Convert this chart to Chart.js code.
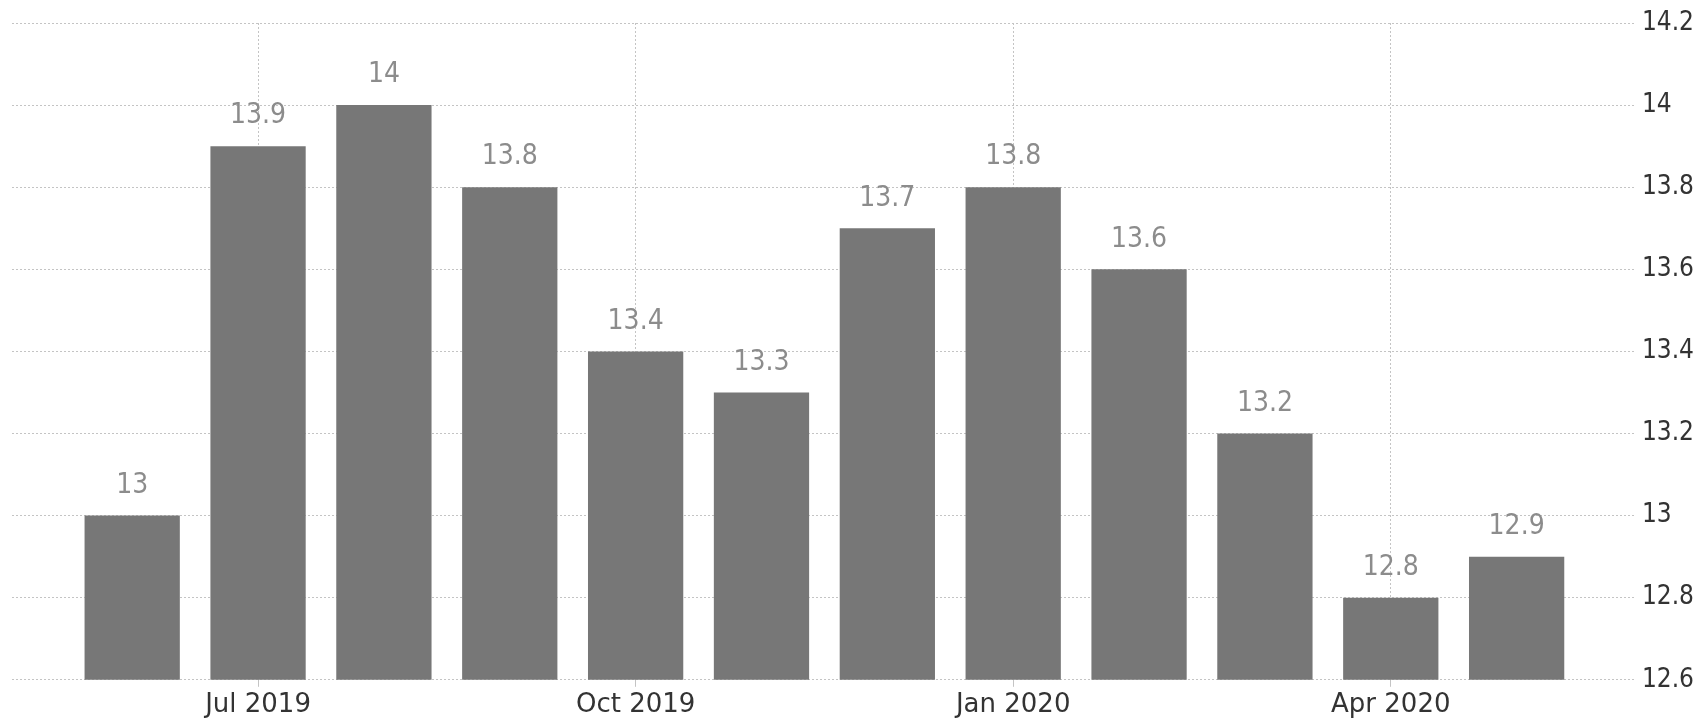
<!DOCTYPE html>
<html>
<head>
<meta charset="utf-8">
<script src="https://cdn.jsdelivr.net/npm/chart.js@4.4.1/dist/chart.umd.min.js"></script>
<style>
  html, body { margin: 0; padding: 0; background: #fff; }
  #wrap { width: 1707px; height: 728px; }
</style>
</head>
<body>
<div id="wrap"><canvas id="chart"></canvas></div>
<script>
// --- data ---
const months = ["Jun 2019", "Jul 2019", "Aug 2019", "Sep 2019", "Oct 2019", "Nov 2019",
                "Dec 2019", "Jan 2020", "Feb 2020", "Mar 2020", "Apr 2020", "May 2020"];
const values = [13, 13.9, 14, 13.8, 13.4, 13.3, 13.7, 13.8, 13.6, 13.2, 12.8, 12.9];
const xTickLabels = ["Jul 2019", "Oct 2019", "Jan 2020", "Apr 2020"];
const yTicks = [12.6, 12.8, 13, 13.2, 13.4, 13.6, 13.8, 14, 14.2];

const points = values.map((v, i) => ({ x: i, y: v }));
const xTickIdx = xTickLabels.map(l => months.indexOf(l));

// --- value labels above bars ---
const valueLabels = {
    id: "valueLabels",
    afterDatasetsDraw(chart) {
        const ctx = chart.ctx;
        const meta = chart.getDatasetMeta(0);
        ctx.save();
        ctx.font = "28px 'Liberation Sans Narrow', 'DejaVu Sans Condensed', sans-serif";
        ctx.fillStyle = "#8c8c8c";
        ctx.textAlign = "center";
        ctx.textBaseline = "middle";
        meta.data.forEach((bar, i) => {
            ctx.fillText(String(values[i]), bar.x, bar.y - 30);
        });
        ctx.restore();
    }
};

const dotted = [2, 2];

new Chart(document.getElementById("chart"), {
    type: "bar",
    data: {
        datasets: [{
            data: points,
            backgroundColor: "#777777",
            borderWidth: 0,
            barPercentage: 0.757,
            categoryPercentage: 1
        }]
    },
    options: {
        responsive: true,
        maintainAspectRatio: false,
        animation: false,
        layout: { padding: { left: 12, right: 6, top: 23, bottom: 4 } },
        plugins: { legend: { display: false }, tooltip: { enabled: false } },
        scales: {
            x: {
                type: "linear",
                offset: false,
                min: -0.955,
                max: 11.94,
                afterBuildTicks: axis => { axis.ticks = xTickIdx.map(v => ({ value: v })); },
                ticks: {
                    autoSkip: false,
                    maxRotation: 0,
                    padding: 3,
                    color: "#333",
                    font: { family: "'DejaVu Sans', sans-serif", size: 26 },
                    callback: v => months[v]
                },
                grid: { offset: false, color: "#c4c4c4", lineWidth: 1, tickLength: 7, drawTicks: true },
                border: { display: false, dash: dotted }
            },
            y: {
                position: "right",
                min: 12.6,
                max: 14.2,
                afterBuildTicks: axis => { axis.ticks = yTicks.map(v => ({ value: v })); },
                ticks: {
                    padding: 7,
                    color: "#333",
                    font: { family: "'DejaVu Sans Condensed', sans-serif", size: 26 },
                    callback: v => String(Math.round(v * 10) / 10)
                },
                grid: { color: "#c4c4c4", lineWidth: 1, drawTicks: false },
                border: { display: false, dash: dotted }
            }
        }
    },
    plugins: [valueLabels]
});
</script>
</body>
</html>
